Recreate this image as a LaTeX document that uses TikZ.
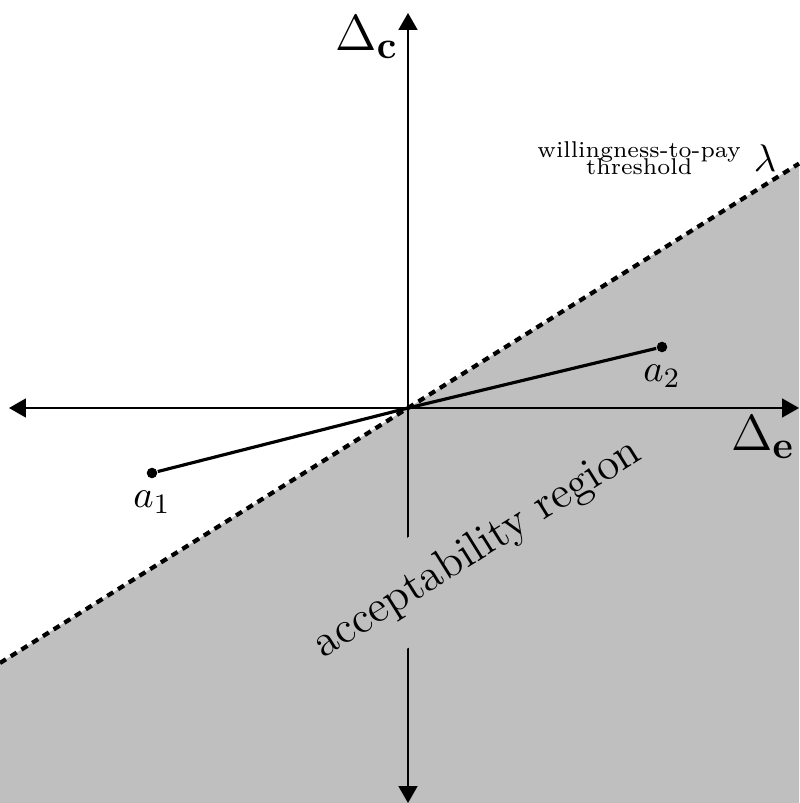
\documentclass[tikz,border=0pt]{standalone}
\usepackage{amsmath,amssymb}
\usetikzlibrary{arrows.meta,positioning}

\begin{document}
\begin{tikzpicture}[
  axis/.style={thin, {Triangle[length=4.8pt,width=5.4pt]}-{Triangle[length=4.8pt,width=5.4pt]}},
  axlabel/.style={font=\fontsize{15.5}{18}\selectfont},
  lbl/.style={font=\fontsize{11}{13}\selectfont},
  region/.style={fill=black!25},
  wtp/.style={line width=1.2pt, dash pattern=on 2pt off 1.6pt},
  alt/.style={line width=0.9pt},
  dot/.style={circle, fill, inner sep=0pt, minimum size=3pt},
]
  \useasboundingbox (-4.08,-3.95) rectangle (3.91,4.08);

  % Threshold line ends and origin
  \coordinate (o) at (0,0);
  \coordinate (wl) at (-4.08,-2.55);
  \coordinate (wr) at (3.91,2.444);

  % Acceptability region
  \fill[region] (wl) -- (wr) -- (3.91,-3.95) -- (-4.08,-3.95) -- cycle;

  % Axes (the region label cuts the vertical one)
  \coordinate (xl) at (-3.99,0);
  \coordinate (xr) at (3.91,0);
  \coordinate (yb) at (0,-3.95);
  \coordinate (yt) at (0,3.95);
  \draw[axis] (yb) -- (yt);
  \node[region, rotate=32, inner xsep=2pt, inner ysep=7.6pt, font=\fontsize{12.8}{15}\selectfont] (acc) at (0.70,-1.41) {acceptability region};
  \draw[axis] (xl) -- (xr);
  \node[axlabel] (dc) at (-0.41,3.71) {$\Delta_{\mathbf{c}}$};
  \node[axlabel] (de) at (3.55,-0.29) {$\Delta_{\mathbf{e}}$};

  % Threshold
  \draw[wtp] (wl) -- (wr);
  \node[lbl] (lam) at (3.57,2.5) {$\lambda$};
  \node[font=\fontsize{6.5}{7.5}\selectfont, align=center, left=-1.2mm of lam] (wtptext) {willingness-to-pay\\[-2.6pt]threshold};

  % Alternatives
  \node[dot] (a1) at (-2.56,-0.65) {};
  \node[dot] (a2) at (2.54,0.61) {};
  \node[lbl, below=0pt of a1] (a1l) {$a_1$};
  \node[lbl, below=0pt of a2] (a2l) {$a_2$};
  \draw[alt] (o) -- (a1);
  \draw[alt] (o) -- (a2);
\end{tikzpicture}
\end{document}
